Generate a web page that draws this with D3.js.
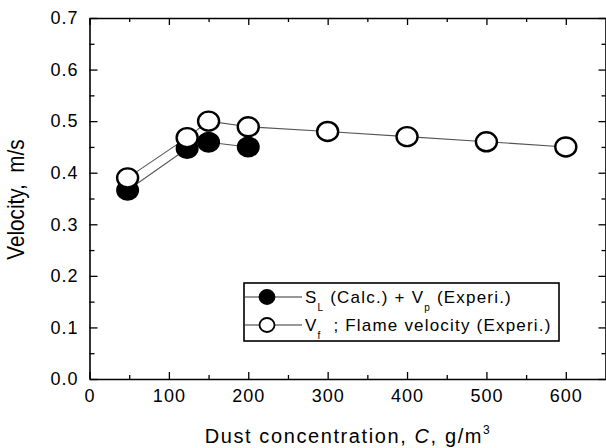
<!DOCTYPE html>
<html><head><meta charset="utf-8">
<script src="https://cdn.jsdelivr.net/npm/d3@7/dist/d3.min.js"></script>
<style>
body{margin:0;background:#fff;}
text{font-family:"Liberation Sans",Arial,sans-serif;fill:#000;white-space:pre;}
</style></head>
<body><svg id="c" width="606" height="448"></svg>
<script>
// data
const filledX = [48, 123, 150, 200];
const filledY = [0.366, 0.447, 0.459, 0.450];
const openX = [48, 123, 150, 200, 300, 400, 500, 600];
const openY = [0.390, 0.468, 0.500, 0.489, 0.480, 0.470, 0.460, 0.450];
const xTicks = [0, 100, 200, 300, 400, 500, 600];
const xMinor = [50, 150, 250, 350, 450, 550];
const yTicks = [0.0, 0.1, 0.2, 0.3, 0.4, 0.5, 0.6, 0.7];
const yMinor = [0.05, 0.15, 0.25, 0.35, 0.45, 0.55, 0.65];
const legendLabels = [["S", "L", " (Calc.) + V", "p", " (Experi.)"], ["V", "f", "  ; Flame velocity (Experi.)"]];

const svg = d3.select("#c");
const L = 89.5, R = 605.5, T = 18, B = 379;
const x = d3.scaleLinear().domain([0, 650]).range([L, R]);
const y = d3.scaleLinear().domain([0, 0.7]).range([B, T]);

// axes
function styleAxis(g){ g.select(".domain").attr("stroke","#000").attr("stroke-width",1.6); g.selectAll(".tick line").attr("stroke","#000").attr("stroke-width",1.3); }
const tickFont = g => g.selectAll("text").style("font-size","18px").style("letter-spacing","1px");

svg.append("g").attr("transform",`translate(0,${B})`)
  .call(d3.axisBottom(x).tickValues(xTicks).tickSizeInner(-7).tickSizeOuter(0).tickPadding(10).tickFormat(d3.format("d")))
  .call(styleAxis).call(tickFont);
svg.append("g").attr("transform",`translate(0,${B})`)
  .call(d3.axisBottom(x).tickValues(xMinor).tickSizeInner(-4).tickSizeOuter(0).tickFormat(""))
  .call(styleAxis).call(g=>g.select(".domain").remove());
svg.append("g").attr("transform",`translate(0,${T})`)
  .call(d3.axisTop(x).tickValues(xTicks).tickSizeInner(-7).tickSizeOuter(0).tickFormat(""))
  .call(styleAxis);
svg.append("g").attr("transform",`translate(0,${T})`)
  .call(d3.axisTop(x).tickValues(xMinor).tickSizeInner(-4).tickSizeOuter(0).tickFormat(""))
  .call(styleAxis).call(g=>g.select(".domain").remove());

svg.append("g").attr("transform",`translate(${L},0)`)
  .call(d3.axisLeft(y).tickValues(yTicks).tickSizeInner(-8).tickSizeOuter(0).tickPadding(11).tickFormat(d3.format(".1f")))
  .call(styleAxis).call(tickFont);
svg.append("g").attr("transform",`translate(${L},0)`)
  .call(d3.axisLeft(y).tickValues(yMinor).tickSizeInner(-5).tickSizeOuter(0).tickFormat(""))
  .call(styleAxis).call(g=>g.select(".domain").remove());
svg.append("g").attr("transform",`translate(${R},0)`)
  .call(d3.axisRight(y).tickValues(yTicks).tickSizeInner(-7).tickSizeOuter(0).tickFormat(""))
  .call(styleAxis);
svg.append("g").attr("transform",`translate(${R},0)`)
  .call(d3.axisRight(y).tickValues(yMinor).tickSizeInner(-4).tickSizeOuter(0).tickFormat(""))
  .call(styleAxis).call(g=>g.select(".domain").remove());

// lines
const line = d3.line().x(d=>x(d[0])).y(d=>y(d[1]));
const fData = filledX.map((v,i)=>[v, filledY[i]]);
const oData = openX.map((v,i)=>[v, openY[i]]);
svg.append("path").datum(fData).attr("d",line).attr("fill","none").attr("stroke","#555").attr("stroke-width",1.1);
svg.append("path").datum(oData).attr("d",line).attr("fill","none").attr("stroke","#555").attr("stroke-width",1.1);

// markers
svg.append("g").selectAll("ellipse").data(fData).join("ellipse")
  .attr("cx",d=>x(d[0])).attr("cy",d=>y(d[1])).attr("rx",10.5).attr("ry",9.5)
  .attr("fill","#000").attr("stroke","#000").attr("stroke-width",2);
svg.append("g").selectAll("ellipse").data(oData).join("ellipse")
  .attr("cx",d=>x(d[0])).attr("cy",d=>y(d[1])).attr("rx",10.5).attr("ry",9.5)
  .attr("fill","#fff").attr("stroke","#000").attr("stroke-width",2.4);

// axis titles
svg.append("text").attr("x",348).attr("y",443).attr("text-anchor","middle")
  .style("font-size","20px").style("letter-spacing","1.6px")
  .call(t=>{
    t.append("tspan").text("Dust concentration, ");
    t.append("tspan").style("font-style","italic").text("C");
    t.append("tspan").text(", g/m");
    t.append("tspan").attr("dy",-9).style("font-size","12px").text("3");
  });
svg.append("text").attr("transform","translate(24,199.5) rotate(-90) scale(0.9,1)").attr("text-anchor","middle")
  .style("font-size","23px").text("Velocity,  m/s");

// legend
const lg = svg.append("g");
lg.append("rect").attr("x",244).attr("y",283).attr("width",315).attr("height",58)
  .attr("fill","#fff").attr("stroke","#000").attr("stroke-width",1.6);
const rows = [297, 325];
rows.forEach((ry,i)=>{
  lg.append("line").attr("x1",244).attr("x2",302).attr("y1",ry).attr("y2",ry).attr("stroke","#333").attr("stroke-width",1.1);
  lg.append("ellipse").attr("cx",267).attr("cy",ry).attr("rx",7.5).attr("ry",7)
    .attr("fill", i===0?"#000":"#fff").attr("stroke","#000").attr("stroke-width",1.8);
  const t = lg.append("text").attr("x",305).attr("y",ry+6).style("font-size","17px").style("letter-spacing","1.2px");
  legendLabels[i].forEach((s,j)=>{
    if (j%2===1) t.append("tspan").attr("dy",8).style("font-size","10px").text(s);
    else t.append("tspan").attr("dy", j===0?0:-8).text(s);
  });
});
</script></body></html>
